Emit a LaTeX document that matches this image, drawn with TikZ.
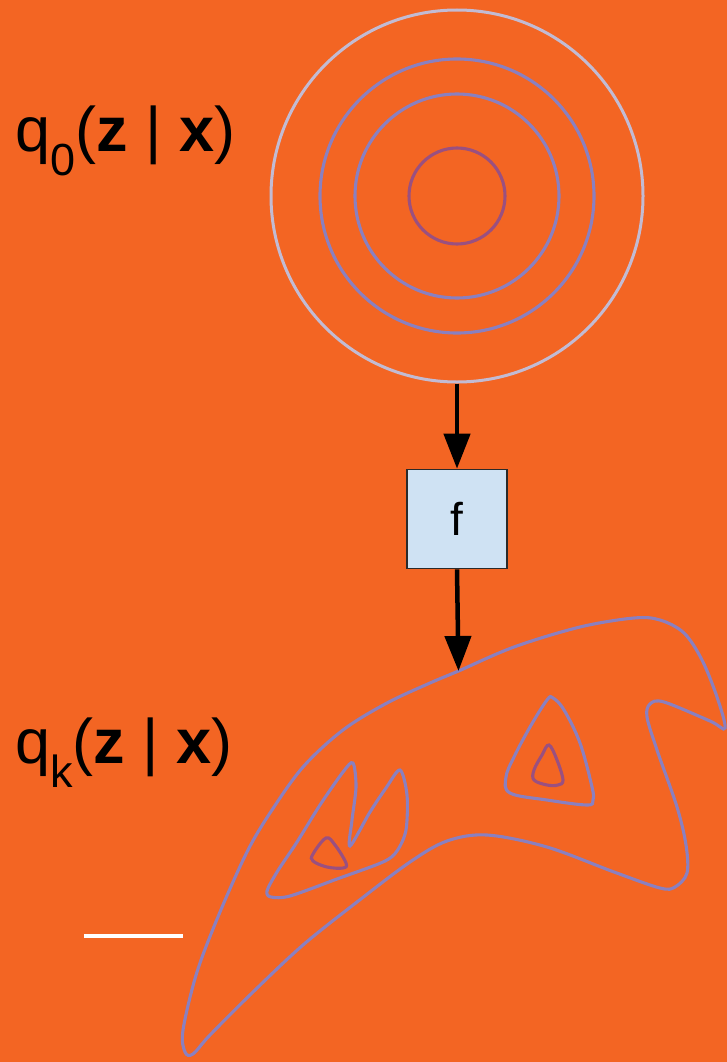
\documentclass[tikz,border=0pt]{standalone}
\usepackage{fontspec}
\setmainfont{Liberation Sans}
\usetikzlibrary{arrows.meta}
\definecolor{bgorange}{HTML}{F36523}
\definecolor{ringlight}{HTML}{C2BBD3}
\definecolor{ringmid}{HTML}{8A80C0}
\definecolor{ringred}{HTML}{9A5080}
\definecolor{boxblue}{HTML}{CFE2F3}
\definecolor{boxedge}{HTML}{2A2A2A}
\tikzset{
  contour/.style={draw=ringmid, line width=3.1pt},
  redcontour/.style={draw=ringred, line width=3.1pt},
  flowarrow/.style={draw=black, line width=4.5pt, -{Triangle[length=35pt,width=26pt]}},
  fbox/.style={draw=boxedge, fill=boxblue, line width=1.6pt, minimum width=100pt, minimum height=99pt, inner sep=0pt, font=\fontsize{46pt}{46pt}\selectfont},
  qlabel/.style={anchor=base west, inner sep=0pt, font=\fontsize{63pt}{63pt}\selectfont}
}
\newcommand{\subsc}[1]{{\fontsize{45pt}{45pt}\selectfont\raisebox{-24pt}{#1}}}
\begin{document}
\begin{tikzpicture}[x=1pt,y=-1pt]
\useasboundingbox (0,0) rectangle (727,1062);
\fill[bgorange] (0,0) rectangle (727,1062);

% concentric circles of q0
\node[circle, draw=ringlight, line width=3pt, minimum size=372pt, inner sep=0pt] (q0) at (457,196) {};
\node[circle, contour, minimum size=274pt, inner sep=0pt] (r2) at (457,196) {};
\node[circle, contour, minimum size=204pt, inner sep=0pt] (r3) at (457,196) {};
\node[circle, redcontour, minimum size=96pt, inner sep=0pt] (r4) at (457,196) {};

% f box
\node[fbox] (f) at (457,519) {f};

% qk outer contour
\draw[contour] plot[smooth cycle, tension=0.55] coordinates {
 (458.5,671) (514,647) (580,627) (634,618) (660,620) (684,633) (702,660) (717,697) (725,728)
 (710,721) (664,702) (650,704) (647,717) (657,750) (677,807) (686,845) (687,873) (675,887) (660,888)
 (614,872) (547,847) (487,835) (447,841) (410,862) (357,902) (303,945) (253,992) (210,1035)
 (193,1054) (185,1052) (183,1030) (197,972) (220,912) (247,852) (270,813) (303,767) (343,730)
 (387,703) (430,683)};
\coordinate (qktop) at (458.5,671);

% left inner loop with notch
\draw[contour] plot[smooth cycle, tension=0.5] coordinates {
 (267,891) (277,872) (297,842) (320,805) (343,772) (353,763) (356,787) (352,820) (350,846)
 (370,812) (386,788) (400,770) (407,795) (406,830) (397,851) (383,862) (337,879) (290,896) (271,897)};

% left small red loop
\draw[redcontour] plot[smooth cycle, tension=0.6] coordinates {
 (313,854) (326,838) (335,845) (346,863) (343,868) (327,867) (313,861)};

% right triangle loop
\draw[contour] plot[smooth cycle, tension=0.6] coordinates {
 (553,698) (564,710) (580,743) (592,787) (593,800) (587,805) (547,800) (510,793) (506,777)
 (514,757) (530,727) (547,700)};

% right small red loop
\draw[redcontour] plot[smooth cycle, tension=0.6] coordinates {
 (549,745) (557,760) (563,780) (558,785) (547,785) (534,780) (534,770) (542,755)};

% arrows
\draw[flowarrow] (q0.south) -- (f.north);
\draw[flowarrow] (f.south) -- (qktop);

% labels
\node[qlabel] (lab0) at (15,151) {q\subsc{0}(\textbf{z} | \textbf{x})};
\node[qlabel] (labk) at (15,763) {q\subsc{k}(\textbf{z} | \textbf{x})};

% white bar
\draw[white, line width=4.5pt] (84,936) -- (183,936);
\end{tikzpicture}
\end{document}
